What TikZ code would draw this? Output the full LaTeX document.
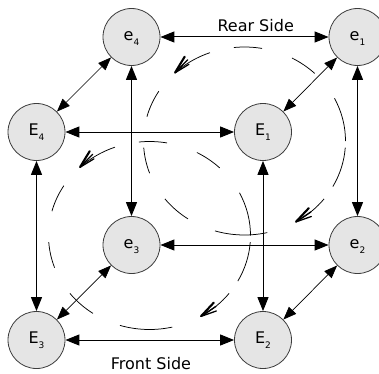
\documentclass[tikz,border=0pt]{standalone}
\usepackage{fontspec}
\setmainfont{DejaVu Sans}
\usetikzlibrary{arrows.meta}
\definecolor{nodefill}{RGB}{229,229,229}
\definecolor{nodeline}{RGB}{60,60,60}
% letter with a lowered index
\newcommand\vlabel[2]{#1\raisebox{-5pt}{\fontsize{9}{9}\selectfont #2}}
\begin{document}
\begin{tikzpicture}[x=1pt,y=1pt,
  vertex/.style={circle, draw=nodeline, line width=0.8pt, fill=nodefill,
    minimum size=57pt, inner sep=0pt, font=\fontsize{16}{16}\selectfont,
    text height=11.7pt, text depth=4.7pt},
  link/.style={line width=1pt,
    {Triangle[length=14pt,width=11pt]}-{Triangle[length=14pt,width=11pt]}},
  slant/.style={line width=0.7pt,
    {Triangle[length=13pt,width=10pt]}-{Triangle[length=13pt,width=10pt]}},
  orbit/.style={line width=0.75pt},
  sidelabel/.style={font=\fontsize{16}{16}\selectfont, anchor=base},
  % feathered tip of a rotation arrow, drawn along its local x axis
  pics/barb/.style={code={
    \draw[line width=2.1pt, line cap=round] (0.5pt,0.2pt) -- (18pt,5.5pt);
    \draw[line width=1.3pt, line cap=round] (0,0) -- (18pt,1.2pt);
    \draw[line width=1.3pt, line cap=round] (0,0) -- (16pt,-3pt);
  }}]
\useasboundingbox (0,0) rectangle (379,373);

% rotation ellipses around the rear and the front faces
\coordinate (rc) at (244.5,232);
\coordinate (fc) at (149.5,137.5);
\foreach \c in {rc,fc} {
  \foreach \a/\b in {80/96,46/62,0/27,-29/-4,-107/-77,-142/-124,-176/-160,148/165}
    \draw[orbit] (\c) ++(\a:101pt and 94pt)
      arc[start angle=\a, end angle=\b, x radius=101pt, y radius=94pt];
  % anticlockwise arrow on the upper left
  \draw[orbit] (\c) ++(110:101pt and 94pt)
    arc[start angle=110, end angle=133.5, x radius=101pt, y radius=94pt]
    coordinate (tipA);
  \pic[rotate=42] at (tipA) {barb};
  % clockwise arrow on the lower right
  \draw[orbit] (\c) ++(-38:101pt and 94pt)
    arc[start angle=-38, end angle=-59.4, x radius=101pt, y radius=94pt]
    coordinate (tipB);
  \pic[rotate=30] at (tipB) {barb};
}

% cube corners
\node[vertex] (e4) at (131.5,336) {\vlabel{e}{4}};
\node[vertex] (e1) at (357.5,336) {\vlabel{e}{1}};
\node[vertex] (E4) at (36.5,241) {\vlabel{E}{4}};
\node[vertex] (E1) at (263,241) {\vlabel{E}{1}};
\node[vertex] (e3) at (131.5,128) {\vlabel{e}{3}};
\node[vertex] (e2) at (357.5,128) {\vlabel{e}{2}};
\node[vertex] (E3) at (36.5,33) {\vlabel{E}{3}};
\node[vertex] (E2) at (263,33) {\vlabel{E}{2}};

% cube edges
\draw[link] (e4) -- (e1);
\draw[link] (E4) -- (E1);
\draw[link] (e3) -- (e2);
\draw[link] (E3) -- (E2);
\draw[link] (e4) -- (e3);
\draw[link] (E4) -- (E3);
\draw[link] (E1) -- (E2);
\draw[link] (e1) -- (e2);
\draw[slant] (E4) -- (e4);
\draw[slant] (E1) -- (e1);
\draw[slant] (E3) -- (e3);
\draw[slant] (E2) -- (e2);

% face names
\node[sidelabel] (rear) at (255.7,341.3) {Rear Side};
\node[sidelabel] (front) at (151,3.5) {Front Side};
\end{tikzpicture}
\end{document}
